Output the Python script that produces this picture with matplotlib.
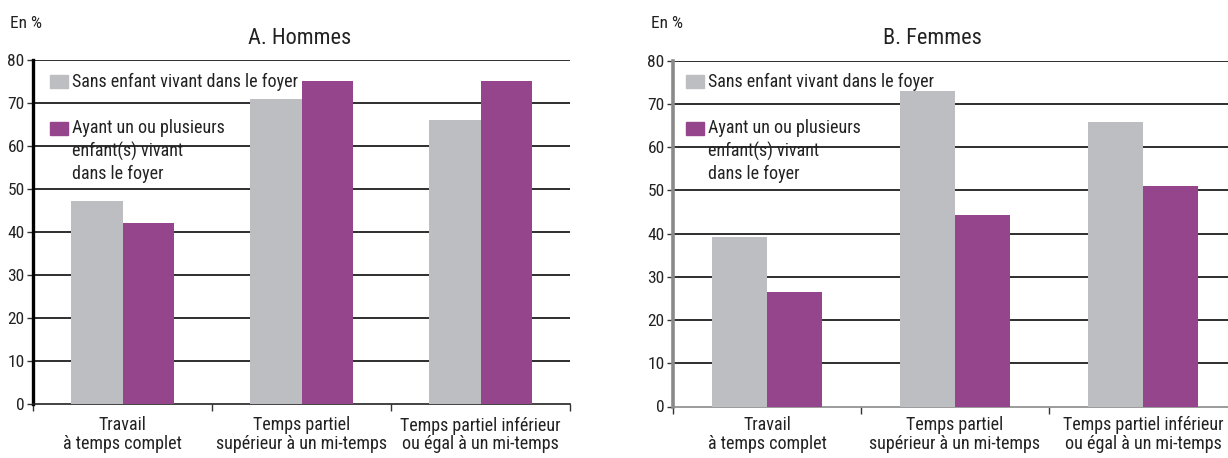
import matplotlib
matplotlib.use("Agg")
import matplotlib.pyplot as plt
from matplotlib.patches import Rectangle
from matplotlib import font_manager
import numpy as np

# ---- data ----
categories = ["Travail\nà temps complet",
              "Temps partiel\nsupérieur à un mi-temps",
              "Temps partiel inférieur\nou égal à un mi-temps"]
series_labels = ["Sans enfant vivant dans le foyer",
                 "Ayant un ou plusieurs\nenfant(s) vivant\ndans le foyer"]
hommes_sans = [47.3, 71.0, 66.0]
hommes_avec = [42.0, 75.2, 75.2]
femmes_sans = [39.1, 73.1, 65.9]
femmes_avec = [26.6, 44.4, 51.0]
yticks = [0, 10, 20, 30, 40, 50, 60, 70, 80]
panel_titles = ["A. Hommes", "B. Femmes"]
unit_label = "En %"

GREY = "#BDBEC2"
PURPLE = "#94458B"

# pick a condensed sans family if one is installed
names = sorted({f.name for f in font_manager.fontManager.ttflist})
cond = [n for n in names if ("Narrow" in n or "Condensed" in n)
        and "Mono" not in n and "Serif" not in n]
pref = [n for n in cond if "Liberation" in n] + [n for n in cond if "Roboto" in n] + cond
if pref:
    NARROW = [pref[0], "DejaVu Sans"]
    SC = 1.0
else:
    NARROW = ["Liberation Sans", "DejaVu Sans"]
    SC = 0.88

W, H = 1228, 458
fig = plt.figure(figsize=(W / 100, H / 100), dpi=100)


def fx(x):
    return x / W


def fy(y):
    return 1 - y / H


def panel(left, right, y0, y80, sans, avec, title, title_x, en_x, legend_x,
          spine_color, spine_w, label_pad):
    ax = fig.add_axes([fx(left), fy(y0), fx(right) - fx(left), (y0 - y80) / H])
    x = np.arange(len(categories)) + 0.5
    bw = 0.29
    ax.bar(x - bw / 2, sans, bw, color=GREY, zorder=3)
    ax.bar(x + bw / 2, avec, bw, color=PURPLE, zorder=3)
    ax.set_xlim(0, 3)
    ax.set_ylim(0, 80)
    for v in yticks[1:]:
        ax.axhline(v, color="#2e2e2e", lw=1.4, zorder=1)
    for s in ["top", "right"]:
        ax.spines[s].set_visible(False)
    ax.spines["left"].set_color(spine_color)
    ax.spines["left"].set_linewidth(spine_w)
    ax.spines["bottom"].set_color(spine_color if spine_color != "black" else "#222222")
    ax.spines["bottom"].set_linewidth(1.2)
    ax.set_yticks(yticks)
    ax.set_yticklabels([str(v) for v in yticks], fontsize=12.5 * SC, family=NARROW,
                       color="#222222")
    ax.tick_params(axis="y", length=4, width=1, color="#333333", pad=2)
    ax.set_xticks([0, 1, 2, 3])
    ax.set_xticklabels([])
    ax.tick_params(axis="x", which="major", length=5, width=1, color="#333333",
                   direction="out")
    ax.set_xticks(x, minor=True)
    ax.set_xticklabels(categories, minor=True, fontsize=13 * SC, family=NARROW,
                       color="#222222", linespacing=1.05)
    ax.tick_params(axis="x", which="minor", length=0, pad=label_pad)
    ax.patch.set_alpha(0)

    fig.text(fx(title_x), fy(38), title, ha="center", va="center",
             fontsize=16 * SC, family=NARROW, color="#222222")
    fig.text(fx(en_x), fy(24), unit_label, ha="left", va="center",
             fontsize=12.5 * SC, family=NARROW, color="#222222")

    # legend
    sq = 18
    fig.patches.append(Rectangle((fx(legend_x), fy(88)), sq / W, 13 / H,
                                 transform=fig.transFigure, color=GREY,
                                 zorder=5))
    fig.patches.append(Rectangle((fx(legend_x), fy(135)), sq / W, 13 / H,
                                 transform=fig.transFigure, color=PURPLE,
                                 zorder=5))
    fig.text(fx(legend_x + 22), fy(81.5), series_labels[0], ha="left",
             va="center", fontsize=13 * SC, family=NARROW, color="#222222",
             zorder=6)
    fig.text(fx(legend_x + 22), fy(119), series_labels[1], ha="left",
             va="top", fontsize=13 * SC, family=NARROW, color="#222222",
             linespacing=1.3, zorder=6)
    return ax


panel(33, 570, 404, 60, hommes_sans, hommes_avec, panel_titles[0], 300, 10, 50,
      "black", 2.4, 9)
panel(673, 1237, 406.5, 60.7, femmes_sans, femmes_avec, panel_titles[1], 932,
      651, 686, "#8a8a8a", 2.6, 7)

fig.savefig("out.png", dpi=100, facecolor="white")
